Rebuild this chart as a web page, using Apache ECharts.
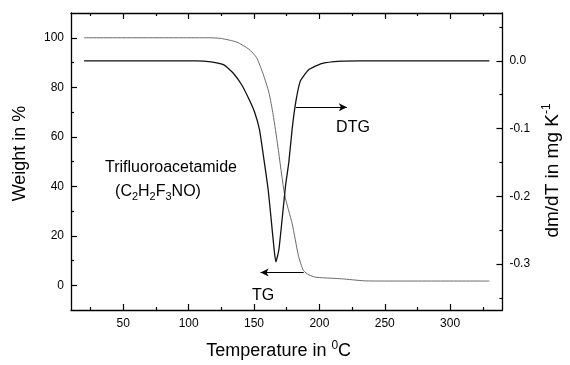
<!DOCTYPE html>
<html>
<head>
<meta charset="utf-8">
<script src="https://cdn.jsdelivr.net/npm/echarts@6/dist/echarts.min.js"></script>
<style>
html, body { margin: 0; padding: 0; background: #fff; }
#main { width: 570px; height: 365px; }
</style>
</head>
<body>
<div id="main"></div>
<script>
// TG curve (weight in %)
const tgTemp   = [20, 115, 125, 137, 146, 151.8, 156.8, 161.4, 164.6, 168.2, 173.4, 179.2, 184, 187.7, 192, 196.7, 203, 217, 234, 250, 330];
const tgWeight = [100, 100, 99.7, 98.2, 95.4, 92.1, 85.6, 77.8, 69, 56.2, 36.6, 24.8, 11.9, 6, 4.2, 3.3, 3.0, 2.6, 1.8, 1.7, 1.7];

// DTG curve (dm/dT in mg/K)
const dtgTemp = [20, 106, 117, 127, 134, 140.4, 146, 150.4, 154.2, 157.9, 160.8, 162.9, 165.4, 166.7, 169, 171.7, 174.2, 176.6, 179.2, 182, 185.4, 191.6, 201.7, 216.7, 230, 330];
const dtgRate = [0, 0, -0.0015, -0.006, -0.018, -0.035, -0.056, -0.0755, -0.102, -0.15, -0.19, -0.23, -0.279, -0.297, -0.279, -0.23, -0.183, -0.15, -0.10, -0.06, -0.030, -0.0135, -0.004, -0.0006, 0, 0];

// arrows [start, end]
const tgArrow  = [[188, 5.2], [155, 5.2]];
const dtgArrow = [[182, -0.0685], [221, -0.0685]];

// ticks
const xMajor = [50, 100, 150, 200, 250, 300];
const xMinor = [25, 75, 125, 175, 225, 275, 325];
const wMajor = [0, 20, 40, 60, 80, 100];
const wMinor = [10, 30, 50, 70, 90];
const dMajor = [-0.3, -0.2, -0.1, 0];
const dMinor = [-0.35, -0.25, -0.15, -0.05, 0.05];

const FONT = 'Liberation Sans';
const chart = echarts.init(document.getElementById('main'), null, { renderer: 'canvas' });

function axis(pos, min, max, ticks, len, main, extra) {
    const a = {
        type: 'value',
        position: pos,
        min: min,
        max: max,
        axisLine: { show: main, onZero: false, lineStyle: { color: '#000', width: 1.3 } },
        axisTick: { show: true, inside: true, length: len, customValues: ticks, lineStyle: { color: '#000', width: 1.2 } },
        axisLabel: { show: false },
        splitLine: { show: false }
    };
    return Object.assign(a, extra || {});
}

const labelStyle = { color: '#000', fontFamily: FONT, fontSize: 12 };

const option = {
    animation: false,
    backgroundColor: '#fff',
    grid: { left: 71, right: 59, top: 13, bottom: 46, containLabel: false },
    xAxis: [
        axis('bottom', 10, 340, xMajor, 6, true, {
            axisLabel: Object.assign({ show: true, customValues: xMajor, margin: 8 }, labelStyle),
            name: '{n|Temperature in }{sup|0}{n|C}',
            nameLocation: 'middle',
            nameGap: 30,
            nameTextStyle: {
                padding: [0, 16, 0, 0],
                rich: {
                    n: { fontFamily: FONT, fontSize: 18, color: '#000', lineHeight: 22 },
                    sup: { fontFamily: FONT, fontSize: 12, color: '#000', verticalAlign: 'top', lineHeight: 12 }
                }
            }
        }),
        axis('bottom', 10, 340, xMinor, 3, false),
        axis('top', 10, 340, xMajor, 6, true),
        axis('top', 10, 340, xMinor, 3, false)
    ],
    yAxis: [
        axis('left', -10, 110, wMajor, 6, true, {
            axisLabel: Object.assign({ show: true, customValues: wMajor, margin: 7 }, labelStyle),
            name: 'Weight in %',
            nameLocation: 'middle',
            nameRotate: 90,
            nameGap: 42,
            nameTextStyle: { fontFamily: FONT, fontSize: 18, color: '#000', padding: [0, 0, 0, 16] }
        }),
        axis('left', -10, 110, wMinor, 3, false),
        axis('right', -0.368, 0.0706, dMajor, 6, true, {
            axisLabel: Object.assign({ show: true, customValues: dMajor, margin: 7, formatter: v => v.toFixed(1) }, labelStyle),
            name: '{n|dm/dT in mg K}{sup|-1}',
            nameLocation: 'middle',
            nameRotate: 90,
            nameGap: 38,
            nameTextStyle: {
                padding: [0, 18, 0, 0],
                rich: {
                    n: { fontFamily: FONT, fontSize: 19, color: '#000', lineHeight: 23 },
                    sup: { fontFamily: FONT, fontSize: 12, color: '#000', verticalAlign: 'top', lineHeight: 12 }
                }
            }
        }),
        axis('right', -0.368, 0.0706, dMinor, 3, false)
    ],
    series: [
        {
            name: 'TG',
            type: 'line',
            xAxisIndex: 0,
            yAxisIndex: 0,
            symbol: 'none',
            smooth: 0.2,
            data: tgTemp.map((t, i) => [t, tgWeight[i]]),
            lineStyle: { color: '#6a6a6a', width: 1 },
            markLine: {
                silent: true,
                symbol: ['none', 'arrow'],
                symbolSize: [6, 8],
                label: { show: false },
                lineStyle: { color: '#000', width: 1.2, type: 'solid' },
                data: [[{ coord: tgArrow[0] }, { coord: tgArrow[1] }]]
            }
        },
        {
            name: 'DTG',
            type: 'line',
            xAxisIndex: 0,
            yAxisIndex: 2,
            symbol: 'none',
            smooth: 0.15,
            data: dtgTemp.map((t, i) => [t, dtgRate[i]]),
            lineStyle: { color: '#111', width: 1.3 },
            markLine: {
                silent: true,
                symbol: ['none', 'arrow'],
                symbolSize: [6, 8],
                label: { show: false },
                lineStyle: { color: '#000', width: 1.2, type: 'solid' },
                data: [[{ coord: dtgArrow[0] }, { coord: dtgArrow[1] }]]
            }
        }
    ],
    graphic: [
        { type: 'text', x: 353, y: 128, style: { text: 'DTG', fill: '#000', font: '16px "Liberation Sans"', align: 'center', verticalAlign: 'middle' } },
        { type: 'text', x: 263, y: 296, style: { text: 'TG', fill: '#000', font: '16px "Liberation Sans"', align: 'center', verticalAlign: 'middle' } },
        { type: 'text', x: 171, y: 168, style: { text: 'Trifluoroacetamide', fill: '#000', font: '16px "Liberation Sans"', align: 'center', verticalAlign: 'middle' } },
        {
            type: 'text', x: 158, y: 192,
            style: {
                text: '{n|(C}{s|2}{n|H}{s|2}{n|F}{s|3}{n|NO)}',
                align: 'center',
                verticalAlign: 'middle',
                rich: {
                    n: { fontFamily: FONT, fontSize: 16, fill: '#000', lineHeight: 20 },
                    s: { fontFamily: FONT, fontSize: 11, fill: '#000', lineHeight: 11, verticalAlign: 'bottom' }
                }
            }
        }
    ]
};

chart.setOption(option);
</script>
</body>
</html>
